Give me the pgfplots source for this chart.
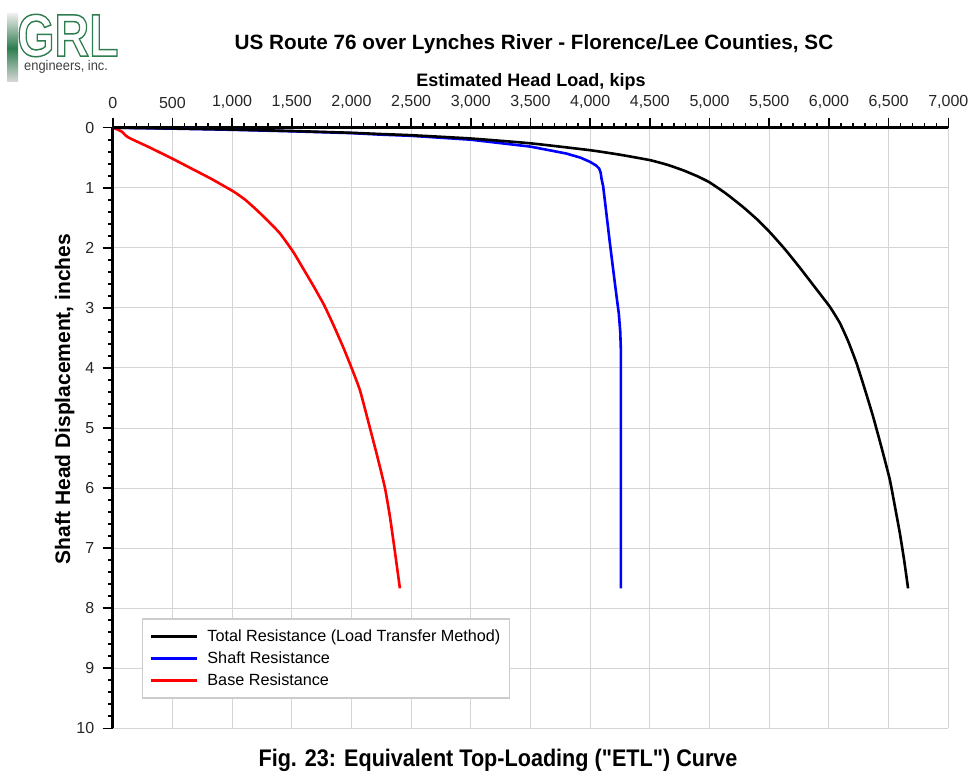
\documentclass[border=0pt]{standalone}
\usepackage{fontspec}
\setmainfont{Liberation Sans}
\usepackage{pgfplots}
\pgfplotsset{compat=1.18}
\definecolor{grlgreen}{HTML}{2E7D4F}
\definecolor{gridgray}{HTML}{D4D4D4}
\pgfplotstableread{
x y
0 0
500 0.012
1000 0.03
1500 0.055
2000 0.085
2240 0.105
2500 0.125
3000 0.18
3500 0.26
4000 0.375
4250 0.45
4500 0.54
4650 0.62
4780 0.71
4900 0.81
5000 0.91
5140 1.10
5280 1.32
5400 1.53
5505 1.74
5630 2.02
5756 2.33
5880 2.65
6007 2.98
6091 3.25
6160 3.55
6231 3.92
6300 4.35
6370 4.81
6440 5.32
6510 5.86
6555 6.33
6594 6.75
6630 7.2
6663 7.67
}\total
\pgfplotstableread{
x y
0 0
500 0.015
1000 0.035
1500 0.06
2000 0.09
2240 0.115
2500 0.135
3000 0.2
3500 0.315
3800 0.43
3920 0.50
4000 0.57
4050 0.63
4075 0.68
4088 0.75
4095 0.85
4109 0.98
4137 1.45
4165 1.92
4193 2.37
4221 2.81
4240 3.1
4252 3.4
4257 3.70
4257 4.5
4257 7.67
}\shaft
\pgfplotstableread{
x y
0 0
40 0.03
80 0.07
103 0.12
130 0.16
159 0.19
300 0.32
494 0.51
650 0.67
815 0.84
1010 1.06
1110 1.2
1206 1.37
1300 1.55
1401 1.76
1513 2.07
1600 2.36
1680 2.63
1770 2.95
1848 3.28
1930 3.65
2001 4.0
2071 4.37
2155 5.0
2220 5.5
2281 6.0
2322 6.47
2360 7.0
2406 7.67
}\base
\begin{document}
\begin{tikzpicture}[x=1pt,y=1pt]
\useasboundingbox (0,0) rectangle (975,773);
% logo
\shade[top color=gray!15, bottom color=gray!30, middle color=grlgreen] (7,691) rectangle (18,759);
\node[anchor=south west, inner sep=0, text=grlgreen, font=\fontsize{60}{60}\selectfont\bfseries] at (17,716)
  {\scalebox{0.8}[1]{\special{pdf:literal direct 1 Tr 1.5 w}GRL\special{pdf:literal direct 0 Tr}}};
\node[anchor=base west, inner sep=0, text=black!75, font=\fontsize{14}{14}\selectfont] at (24,702) {\scalebox{0.92}[1]{engineers, inc.}};
% title
\node[anchor=base, inner sep=0, font=\fontsize{20.7}{22}\selectfont\bfseries] at (534,723)
  {US Route 76 over Lynches River - Florence/Lee Counties, SC};
\node[anchor=base, inner sep=0, font=\fontsize{18}{20}\selectfont\bfseries] at (531,686.3)
  {Estimated Head Load, kips};
\node[rotate=90, anchor=base, inner sep=0, font=\fontsize{21}{22}\selectfont\bfseries] at (70,374)
  {Shaft Head Displacement, inches};
\node[anchor=base, inner sep=0, font=\fontsize{24}{25}\selectfont\bfseries\addfontfeatures{Ligatures=TeXOff}] at (498,6)
  {\scalebox{0.9}[1]{Fig. 23: Equivalent Top-Loading ("ETL") Curve}};
\begin{axis}[
  at={(112.7pt,645.3pt)}, anchor=north west,
  width=835.6pt, height=600.6pt, scale only axis,
  xmin=0, xmax=7000, ymin=0, ymax=10, y dir=reverse,
  axis x line=top, axis y line=left,
  axis line style={-, line width=2.5pt, black},
  xtick distance=500, ytick distance=1,
  minor x tick num=4, minor y tick num=4,
  tick align=outside,
  major tick length=10pt, minor tick length=5pt,
  every tick/.style={black, line width=1.6pt},
  grid=major, major grid style={gridgray, line width=1pt},
  /pgf/number format/1000 sep={,},
  /pgf/number format/assume math mode=true,
  tick label style={font=\fontsize{16}{16}\selectfont, text=black!85},
  xticklabel style={yshift=6pt},
  yticklabel style={xshift=-5pt},
  legend style={at={(0.0347,0.183)}, anchor=north west, draw=gray!40, line width=1.5pt,
    font=\fontsize{16.2}{18}\selectfont, row sep=4.5pt, inner xsep=7pt, inner ysep=9pt},
  legend cell align=left,
  legend image code/.code={\draw[#1] (0pt,0pt) -- (46pt,0pt); \path (53pt,0pt);},
]
\addlegendimage{black, line width=3pt}
\addlegendentry{Total Resistance (Load Transfer Method)}
\addlegendimage{blue, line width=3pt}
\addlegendentry{Shaft Resistance}
\addlegendimage{red, line width=3pt}
\addlegendentry{Base Resistance}
\addplot[forget plot, blue, line width=2.6pt, line join=round] table {\shaft};
\addplot[forget plot, red, line width=2.6pt, line join=round, smooth, tension=0.3] table {\base};
\addplot[forget plot, black, line width=2.6pt, line join=round, smooth, tension=0.3] table {\total};
\end{axis}
\end{tikzpicture}
\end{document}
